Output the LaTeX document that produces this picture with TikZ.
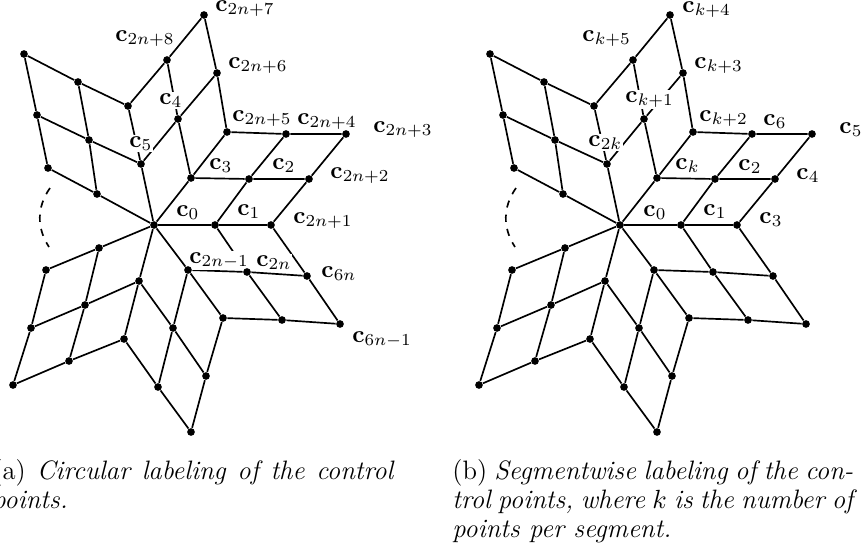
\documentclass[tikz,border=0pt]{standalone}
\usepackage{amsmath,amssymb}
\usetikzlibrary{backgrounds}
\tikzset{
  pt/.style={circle,fill=black,inner sep=0pt,minimum size=3.2pt},
  edge/.style={line width=0.7pt,black},
  lbl/.style={anchor=base west,fill=white,inner sep=0.4pt,xshift=-0.4pt},
  capt/.style={anchor=north west,inner sep=0pt,text width=167pt,align=justify,
    font=\fontsize{11.1}{12.1}\selectfont},
}
% one star of control points, used for both panels
\newcommand{\ctrlstar}{%
  \foreach \n/\x/\y in {o/154/225,
    a1/215/225,a2/271/225,b1/191/178,b2/227/132,c1/141/164,c2/128/106,
    d1/97/194,d2/48/168,e1/99/248,e2/46/270,f1/139/281,f2/124/339,
    g1/188/270,g2/223/318,
    ab11/249/179,ab21/309/179,ab12/286/134,ab22/346/134,
    bc11/178/119,bc21/217/73,bc12/167/60,bc22/204/15,
    cd11/89/140,cd12/37/115,cd21/78/82,cd22/24/54,
    ef11/85/305,ef12/69/361,ef21/31/328,ef22/13/385,
    fg11/173/328,fg12/206/376,fg21/158/387,fg22/191/432,
    ga11/247/272,ga12/307/276,ga21/282/320,ga22/340/324}
    \node[pt] (\n) at (\x,\y) {};
  \coordinate (gapa) at (50,188);
  \coordinate (gapb) at (49,247);
  \begin{scope}[on background layer]
    % spokes
    \foreach \s in {a,b,c,d,e,f,g}
      \draw[edge] (o) -- (\s1) -- (\s2);
    % the grid of each sector
    \foreach \s/\t in {a/b,b/c,c/d,e/f,f/g,g/a} {
      \draw[edge] (\s1) -- (\s\t11) -- (\s\t12);
      \draw[edge] (\s2) -- (\s\t21) -- (\s\t22);
      \draw[edge] (\t1) -- (\s\t11) -- (\s\t21);
      \draw[edge] (\t2) -- (\s\t12) -- (\s\t22);
    }
    \draw[edge,dashed] (gapa) to[bend right=34] (gapb);
  \end{scope}
}
\begin{document}
\begin{tikzpicture}[x=0.4167pt,y=-0.4167pt]
  \useasboundingbox (0,0) rectangle (863,544);

  % circular labeling
  \begin{scope}[name prefix=l-]
    \ctrlstar
    \begin{scope}[on background layer]
      \foreach \x/\y/\i in {215/11/2n+7,115/41/2n+8,228/68/2n+6,232/121/2n+5,
        297/124/2n+4,373/132/2n+3,330/178/2n+2,293/223/2n+1,209/169/3,272/169/2,
        237/215/1,176/216/0,159/104/4,129/147/5,189/263/2n-1,256/266/2n,
        321/277/6n,352/342/6n-1}
        \node[lbl] (c\x) at (\x,\y) {$\mathbf{c}_{\i}$};
    \end{scope}
  \end{scope}

  % segmentwise labeling
  \begin{scope}[shift={(466,0)},name prefix=r-]
    \ctrlstar
  \end{scope}
  \begin{scope}[on background layer,name prefix=r-]
    \foreach \x/\y/\i in {682/12/k+4,582/41/k+5,694/68/k+3,699/121/k+2,763/125/6,
      839/133/5,796/179/4,759/223/3,675/169/k,738/170/2,703/215/1,643/216/0,
      625/102/k+1,588/146/2k}
      \node[lbl] (c\x) at (\x,\y) {$\mathbf{c}_{\i}$};
  \end{scope}

  % captions
  \node[capt] (capa) at (-8,459) {(a) \textit{Circular labeling of the control points.}};
  \node[capt] (capb) at (452,459) {(b) \textit{Segmentwise labeling of the control points, where $k$ is the number of points per segment.}};
\end{tikzpicture}
\end{document}
